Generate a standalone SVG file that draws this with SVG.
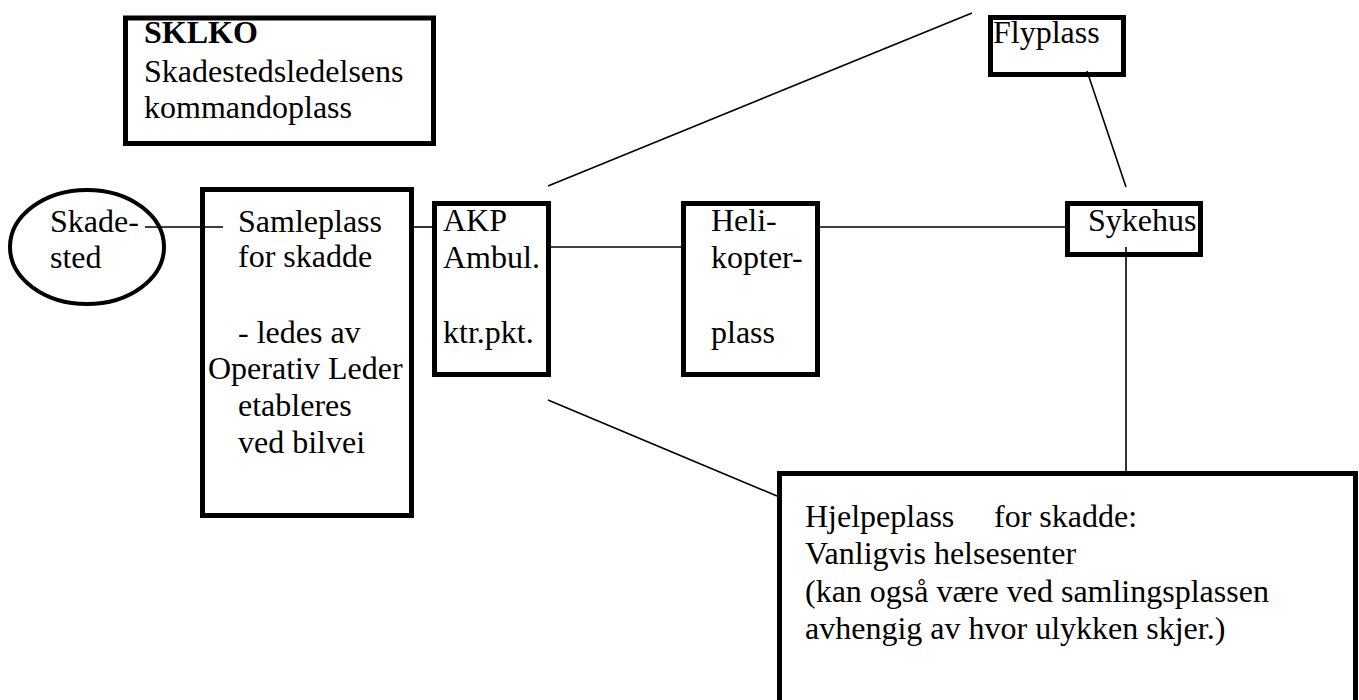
<svg xmlns="http://www.w3.org/2000/svg" width="1359" height="700" viewBox="0 0 1359 700">
<style>
.box{fill:#fff;stroke:#000;stroke-width:5}
.ell{fill:#fff;stroke:#000;stroke-width:4}
.conn line{stroke:#000;stroke-width:1.6}
text{font-family:"Liberation Serif","Times New Roman",serif;font-size:32px;fill:#000}
.b{font-weight:bold}
</style>
<rect width="1359" height="700" fill="#fff"/>
<g id="sklko">
<rect class="box" x="125.5" y="18" width="308" height="125.5"/>
<text x="144" y="43" class="b">SKLKO</text>
<text x="144" y="82">Skadestedsledelsens</text>
<text x="144" y="118">kommandoplass</text>
</g>
<g id="skadested">
<ellipse class="ell" cx="87" cy="247" rx="77" ry="57"/>
<text x="50" y="232">Skade-</text>
<text x="50" y="268">sted</text>
</g>
<g id="samleplass">
<rect class="box" x="202.5" y="189.5" width="209" height="326"/>
<text x="238" y="232">Samleplass</text>
<text x="238" y="267">for skadde</text>
<text x="238" y="343">- ledes av</text>
<text x="208" y="379">Operativ Leder</text>
<text x="238" y="416">etableres</text>
<text x="238" y="453">ved bilvei</text>
</g>
<g id="akp">
<rect class="box" x="434.5" y="203.5" width="114" height="171"/>
<text x="443" y="231">AKP</text>
<text x="443" y="268">Ambul.</text>
<text x="443" y="343">ktr.pkt.</text>
</g>
<g id="helikopterplass">
<rect class="box" x="683.5" y="203.5" width="134" height="171"/>
<text x="711" y="231">Heli-</text>
<text x="711" y="268">kopter-</text>
<text x="711" y="343">plass</text>
</g>
<g id="flyplass">
<rect class="box" x="990.5" y="17.5" width="133" height="57"/>
<text x="993" y="43">Flyplass</text>
</g>
<g id="sykehus">
<rect class="box" x="1067.5" y="203.5" width="133" height="51"/>
<text x="1088" y="231">Sykehus</text>
</g>
<g id="hjelpeplass">
<rect class="box" x="779.5" y="473.5" width="576" height="260"/>
<text x="805" y="527">Hjelpeplass</text>
<text x="994" y="527">for skadde:</text>
<text x="805" y="564">Vanligvis helsesenter</text>
<text x="805" y="602">(kan også være ved samlingsplassen</text>
<text x="805" y="639">avhengig av hvor ulykken skjer.)</text>
</g>
<g id="connectors" class="conn">
<line x1="145" y1="227" x2="223" y2="227"/>
<line x1="414" y1="227" x2="432" y2="227"/>
<line x1="551" y1="247" x2="682" y2="247"/>
<line x1="820" y1="227" x2="1065" y2="227"/>
<line x1="548" y1="186" x2="972" y2="13"/>
<line x1="548" y1="400" x2="777" y2="496"/>
<line x1="1087" y1="71" x2="1126" y2="187"/>
<line x1="1126" y1="247" x2="1126" y2="472"/>
</g>
</svg>
